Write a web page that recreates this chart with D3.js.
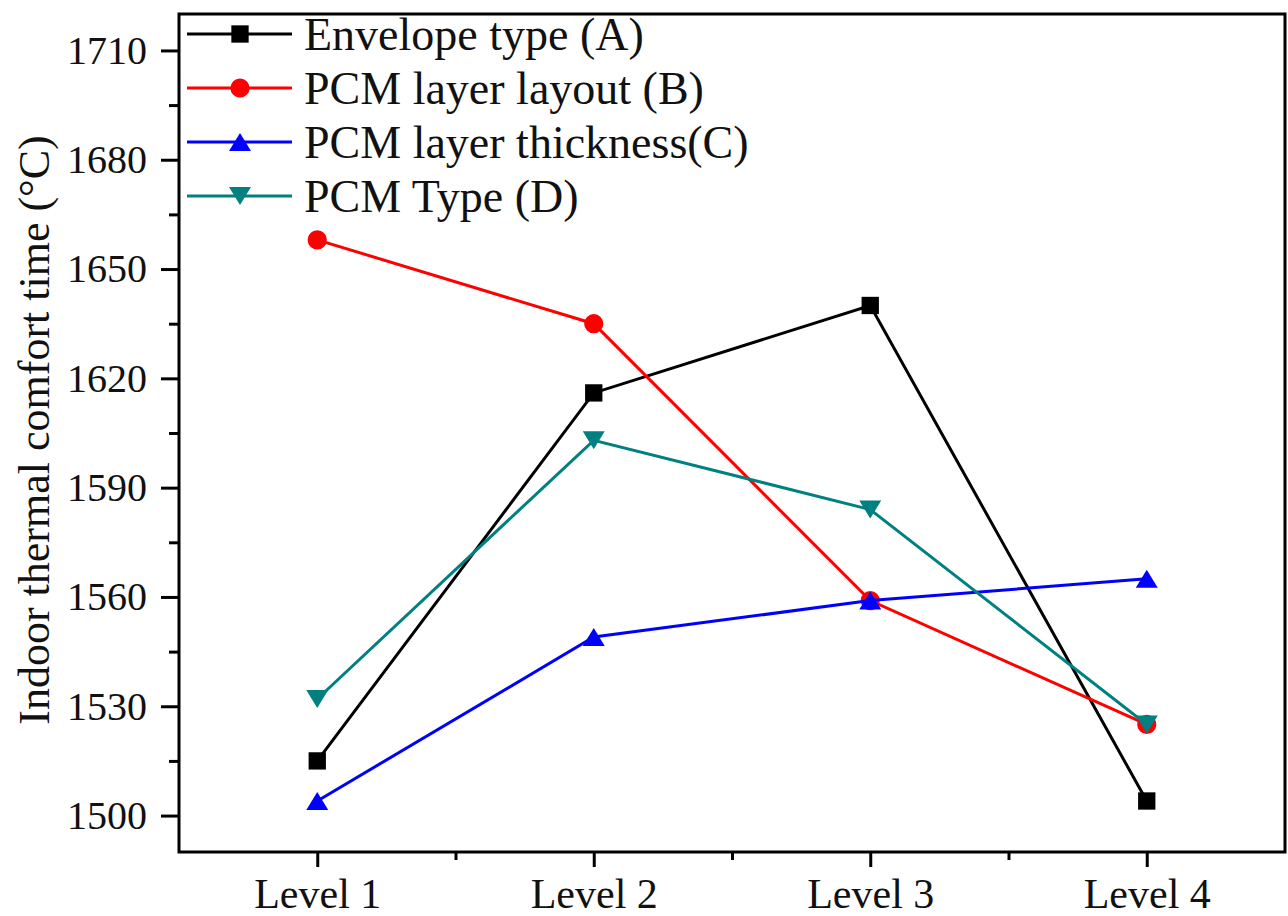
<!DOCTYPE html>
<html>
<head>
<meta charset="utf-8">
<script src="https://cdn.jsdelivr.net/npm/d3@7"></script>
<style>
  body { margin: 0; background: #fff; }
  text { font-family: "Liberation Serif", "Times New Roman", serif; }
</style>
</head>
<body>
<svg width="1288" height="916"></svg>
<script>
var levels = ["Level 1", "Level 2", "Level 3", "Level 4"];
var envelopeA = [1515, 1616, 1640, 1504];
var layoutB = [1658, 1635, 1559, 1525];
var thicknessC = [1504, 1549, 1559, 1565];
var typeD = [1532, 1603, 1584, 1525];
var yTicks = [1500, 1530, 1560, 1590, 1620, 1650, 1680, 1710];
var yMinor = [1515, 1545, 1575, 1605, 1635, 1665, 1695];

var series = [
  {name: "Envelope type (A)", values: envelopeA, color: "#000000", symbol: d3.symbolSquare},
  {name: "PCM layer layout (B)", values: layoutB, color: "#ff0000", symbol: d3.symbolCircle},
  {name: "PCM layer thickness(C)", values: thicknessC, color: "#0000ff", symbol: "up"},
  {name: "PCM Type (D)", values: typeD, color: "#008080", symbol: "down"}
];

var plotL = 179, plotT = 14, plotR = 1285, plotB = 852;

var svg = d3.select("svg");

var xScale = d3.scaleLinear().domain([0.5, 4.5]).range([plotL, plotR]);
var yScale = d3.scaleLinear().domain([1490, 1720]).range([plotB, plotT]);

// y axis major + minor
var yAxis = d3.axisLeft(yScale).tickValues(yTicks).tickSize(18).tickSizeOuter(0).tickPadding(14)
  .tickFormat(d3.format("d"));
svg.append("g").attr("transform", "translate(" + plotL + ",0)").call(yAxis)
  .call(function(g) {
    g.select(".domain").remove();
    g.selectAll("line").attr("stroke-width", 3);
    g.selectAll("text").attr("font-size", 40).attr("fill", "#111")
      .attr("font-family", "Liberation Serif");
  });
svg.append("g").attr("transform", "translate(" + plotL + ",0)")
  .call(d3.axisLeft(yScale).tickValues(yMinor).tickSize(10).tickFormat(""))
  .call(function(g) {
    g.select(".domain").remove();
    g.selectAll("line").attr("stroke-width", 3);
  });

// x axis
var xAxis = d3.axisBottom(xScale).tickValues([1, 2, 3, 4]).tickSize(15).tickPadding(11)
  .tickFormat(function(d) { return levels[d - 1]; });
svg.append("g").attr("transform", "translate(0," + plotB + ")").call(xAxis)
  .call(function(g) {
    g.select(".domain").remove();
    g.selectAll("line").attr("stroke-width", 3);
    g.selectAll("text").attr("font-size", 42).attr("fill", "#111")
      .attr("font-family", "Liberation Serif");
  });
svg.append("g").attr("transform", "translate(0," + plotB + ")")
  .call(d3.axisBottom(xScale).tickValues([1.5, 2.5, 3.5]).tickSize(8).tickFormat(""))
  .call(function(g) {
    g.select(".domain").remove();
    g.selectAll("line").attr("stroke-width", 3);
  });

// frame
svg.append("rect")
  .attr("x", plotL).attr("y", plotT)
  .attr("width", plotR - plotL).attr("height", plotB - plotT)
  .attr("fill", "none").attr("stroke", "#000").attr("stroke-width", 3);

// y title
svg.append("text")
  .attr("transform", "translate(49," + 430 + ") rotate(-90)")
  .attr("text-anchor", "middle")
  .attr("font-size", 44)
  .attr("fill", "#111")
  .text("Indoor thermal comfort time (\u00B0C)");

function marker(g, s, x, y) {
  if (s.symbol === "up" || s.symbol === "down") {
    var h = 18, w = 22, dir = s.symbol === "up" ? 1 : -1;
    var pts = [[x - w / 2, y + dir * h / 2], [x + w / 2, y + dir * h / 2], [x, y - dir * h / 2]];
    g.append("polygon").attr("points", pts.map(function(p) { return p.join(","); }).join(" "))
      .attr("fill", s.color);
  } else {
    var size = s.symbol === d3.symbolSquare ? 300 : 290;
    g.append("path").attr("d", d3.symbol().type(s.symbol).size(size)())
      .attr("transform", "translate(" + x + "," + y + ")")
      .attr("fill", s.color);
  }
}

var line = d3.line()
  .x(function(d, i) { return xScale(i + 1); })
  .y(function(d) { return yScale(d); });

series.forEach(function(s) {
  var g = svg.append("g");
  g.append("path").datum(s.values)
    .attr("d", line)
    .attr("fill", "none")
    .attr("stroke", s.color)
    .attr("stroke-width", 3);
  s.values.forEach(function(v, i) {
    marker(g, s, xScale(i + 1), yScale(v));
  });
});

// legend
var legend = svg.append("g");
series.forEach(function(s, i) {
  var y = 34 + i * 54;
  legend.append("line").attr("x1", 187).attr("x2", 292).attr("y1", y).attr("y2", y)
    .attr("stroke", s.color).attr("stroke-width", 3);
  marker(legend, s, 240, y);
  legend.append("text").attr("x", 304).attr("y", y + 16)
    .attr("font-size", 46).attr("fill", "#111")
    .text(s.name);
});
</script>
</body>
</html>
